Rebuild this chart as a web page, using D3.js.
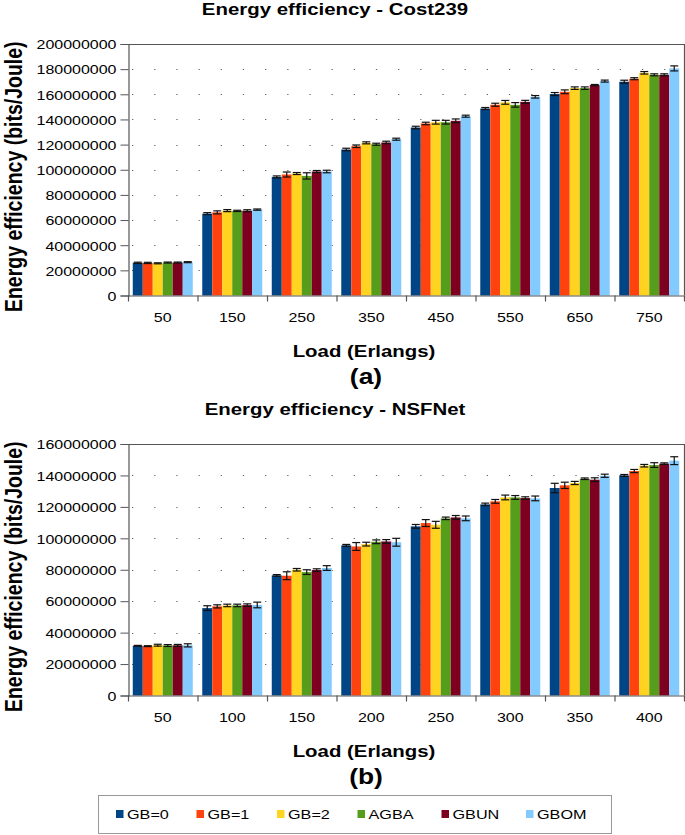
<!DOCTYPE html>
<html><head><meta charset="utf-8">
<script src="https://cdn.jsdelivr.net/npm/d3@7"></script>
<style>
html,body{margin:0;padding:0;background:#fff;}
text{font-family:"Liberation Sans",Arial,sans-serif;fill:#000;}
</style></head>
<body>
<svg id="chart" width="685" height="835"></svg>
<script>
// ---- data (values in millions of bits/Joule) ----
const seriesNames = ["GB=0","GB=1","GB=2","AGBA","GBUN","GBOM"];
const seriesColors = ["#004586","#ff420e","#ffd320","#579d1c","#7e0021","#83caff"];

const cost239Loads = ["50","150","250","350","450","550","650","750"];
const cost239_GB0  = [26.0, 65.1, 94.3, 116.1, 133.6, 148.7, 160.2, 170.0];
const cost239_GB1  = [25.9, 66.1, 96.2, 118.7, 136.8, 151.7, 162.0, 172.4];
const cost239_GB2  = [25.6, 67.5, 97.0, 121.4, 137.8, 153.6, 164.9, 177.1];
const cost239_AGBA = [26.2, 67.3, 95.1, 120.3, 137.8, 151.6, 164.9, 175.5];
const cost239_GBUN = [26.2, 67.4, 98.6, 121.7, 138.9, 154.0, 167.3, 175.5];
const cost239_GBOM = [26.5, 68.3, 98.6, 124.3, 142.6, 158.0, 170.5, 180.6];
const cost239Err_GB0  = [0.5, 0.8, 0.8, 1.0, 1.0, 0.8, 1.2, 1.2];
const cost239Err_GB1  = [0.5, 1.2, 2.0, 1.0, 1.0, 1.2, 1.5, 0.8];
const cost239Err_GB2  = [0.4, 0.8, 0.8, 0.8, 1.5, 1.5, 1.0, 1.0];
const cost239Err_AGBA = [0.4, 0.5, 2.5, 0.8, 1.5, 1.8, 1.0, 0.8];
const cost239Err_GBUN = [0.4, 0.8, 0.8, 1.0, 1.5, 1.2, 0.5, 0.8];
const cost239Err_GBOM = [0.4, 0.5, 1.0, 0.8, 0.8, 1.0, 0.8, 2.0];
const cost239YTicks = [0,20,40,60,80,100,120,140,160,180,200];

const nsfLoads = ["50","100","150","200","250","300","350","400"];
const nsf_GB0  = [31.6, 55.6, 76.4, 95.5, 107.6, 121.6, 132.0, 140.0];
const nsf_GB1  = [31.4, 56.7, 76.2, 94.8, 109.7, 123.5, 133.7, 142.8];
const nsf_GB2  = [32.0, 57.3, 80.0, 96.3, 108.6, 126.0, 135.2, 146.2];
const nsf_AGBA = [31.8, 57.3, 78.5, 97.8, 112.7, 126.0, 137.9, 146.6];
const nsf_GBUN = [31.9, 57.5, 79.8, 98.0, 113.3, 125.6, 137.3, 147.5];
const nsf_GBOM = [31.9, 57.6, 81.1, 97.5, 112.7, 125.4, 139.8, 149.4];
const nsfErr_GB0  = [0.3, 1.5, 0.5, 0.6, 1.2, 0.8, 3.0, 0.6];
const nsfErr_GB1  = [0.3, 1.0, 2.5, 2.5, 2.2, 1.2, 2.0, 1.0];
const nsfErr_GB2  = [0.6, 0.8, 0.8, 1.2, 2.2, 1.5, 1.0, 0.8];
const nsfErr_AGBA = [0.6, 0.8, 1.5, 1.2, 0.8, 1.2, 0.5, 1.5];
const nsfErr_GBUN = [0.6, 0.8, 0.8, 1.2, 1.2, 0.8, 1.2, 0.5];
const nsfErr_GBOM = [1.0, 1.8, 1.5, 2.5, 1.5, 1.5, 1.0, 2.5];
const nsfYTicks = [0,20,40,60,80,100,120,140,160];

const MILLION = 1e6;
const SX = 1.2; // horizontal stretch of all text

const svg = d3.select("#chart");

function stext(g, x, y, str, size, weight, anchor, extra) {
  return g.append("text")
    .attr("transform", `translate(${x},${y}) scale(${SX},1)` + (extra || ""))
    .attr("text-anchor", anchor)
    .style("font-size", size + "px")
    .style("font-weight", weight)
    .text(str);
}

function drawPanel(cfg) {
  const L = 128, R = 684, T = cfg.top, B = cfg.top + 251.5;
  const g = svg.append("g");
  const series = [cfg.s0, cfg.s1, cfg.s2, cfg.s3, cfg.s4, cfg.s5];
  const errs = [cfg.e0, cfg.e1, cfg.e2, cfg.e3, cfg.e4, cfg.e5];

  const y = d3.scaleLinear().domain([0, cfg.ymax * MILLION]).range([B, T]);
  const x0 = d3.scaleBand().domain(cfg.loads).range([L, R]).paddingInner(0.137).paddingOuter(0.0685);
  const x1 = d3.scaleBand().domain(seriesNames).range([0, x0.bandwidth()]);
  const step = x0.step();

  // dotted grid
  g.append("g").selectAll("line")
    .data(cfg.yticks.filter(t => t > 0 && t < cfg.ymax))
    .join("line")
    .attr("x1", L + 4).attr("x2", R)
    .attr("y1", d => Math.round(y(d * MILLION)) + 0.5)
    .attr("y2", d => Math.round(y(d * MILLION)) + 0.5)
    .attr("stroke", "#666").attr("stroke-width", 1)
    .attr("stroke-dasharray", "1.3,20.87");

  // bars
  const data = [];
  cfg.loads.forEach((c, i) => seriesNames.forEach((s, j) => {
    data.push({c, s, j, v: series[j][i], e: errs[j][i]});
  }));
  g.append("g").selectAll("rect").data(data).join("rect")
    .attr("x", d => x0(d.c) + x1(d.s))
    .attr("width", x1.bandwidth())
    .attr("y", d => y(d.v * MILLION))
    .attr("height", d => B - y(d.v * MILLION))
    .attr("fill", d => seriesColors[d.j]);

  // error bars
  const eg = g.append("g").attr("stroke", "#111").attr("stroke-width", 1.2).attr("fill", "none");
  data.forEach(d => {
    const cx = x0(d.c) + x1(d.s) + x1.bandwidth() / 2;
    const y1 = y((d.v + d.e) * MILLION), y2 = y((d.v - d.e) * MILLION);
    eg.append("line").attr("x1", cx).attr("x2", cx).attr("y1", y1).attr("y2", y2);
    eg.append("line").attr("x1", cx - 4).attr("x2", cx + 4).attr("y1", y1).attr("y2", y1);
    eg.append("line").attr("x1", cx - 4).attr("x2", cx + 4).attr("y1", y2).attr("y2", y2);
  });

  // frame: top and right
  g.append("path").attr("d", `M${L},${T + 0.5}H${R + 0.5}V${B}`)
    .attr("fill", "none").attr("stroke", "#555").attr("stroke-width", 1.2);

  // y axis
  const yAxis = d3.axisLeft(y)
    .tickValues(cfg.yticks.map(t => t * MILLION))
    .tickFormat(d3.format("d"))
    .tickSize(8).tickPadding(5);
  const ya = g.append("g").attr("transform", `translate(${L + 0.5},0)`).call(yAxis);
  ya.select(".domain").attr("stroke", "#555").attr("stroke-width", 1.2);
  ya.selectAll(".tick line").attr("stroke", "#555");
  ya.selectAll(".tick text")
    .attr("x", null).attr("dy", null)
    .attr("transform", `translate(-12,4.8) scale(${SX},1)`)
    .style("font-size", "13.3px")
    .style("font-family", '"Liberation Sans",Arial,sans-serif')
    .attr("fill", "#000");

  // x axis line and ticks at category boundaries
  g.append("line").attr("x1", L).attr("x2", R).attr("y1", B + 0.5).attr("y2", B + 0.5)
    .attr("stroke", "#555").attr("stroke-width", 1.2);
  g.append("g").selectAll("line").data(d3.range(cfg.loads.length + 1)).join("line")
    .attr("x1", i => L + i * step + 0.5).attr("x2", i => L + i * step + 0.5)
    .attr("y1", B).attr("y2", B + 6)
    .attr("stroke", "#555").attr("stroke-width", 1.2);
  cfg.loads.forEach(c => {
    stext(g, L + (cfg.loads.indexOf(c) + 0.5) * step, B + 26, c, 13.3, "normal", "middle");
  });

  // titles
  stext(g, 335, T - 29, cfg.title, 17, "bold", "middle");
  stext(g, 364, B + 61, "Load (Erlangs)", 17, "bold", "middle");
  stext(g, 366, B + 88, cfg.letter, 22, "bold", "middle");
  stext(g, 22, (T + B) / 2 + 7, "Energy efficiency (bits/Joule)", 19.5, "bold", "middle", " rotate(-90)");
}

drawPanel({
  top: 44, ymax: 200, yticks: cost239YTicks, loads: cost239Loads,
  title: "Energy efficiency - Cost239", letter: "(a)",
  s0: cost239_GB0, s1: cost239_GB1, s2: cost239_GB2, s3: cost239_AGBA, s4: cost239_GBUN, s5: cost239_GBOM,
  e0: cost239Err_GB0, e1: cost239Err_GB1, e2: cost239Err_GB2, e3: cost239Err_AGBA, e4: cost239Err_GBUN, e5: cost239Err_GBOM
});
drawPanel({
  top: 444, ymax: 160, yticks: nsfYTicks, loads: nsfLoads,
  title: "Energy efficiency - NSFNet", letter: "(b)",
  s0: nsf_GB0, s1: nsf_GB1, s2: nsf_GB2, s3: nsf_AGBA, s4: nsf_GBUN, s5: nsf_GBOM,
  e0: nsfErr_GB0, e1: nsfErr_GB1, e2: nsfErr_GB2, e3: nsfErr_AGBA, e4: nsfErr_GBUN, e5: nsfErr_GBOM
});

// legend
const lg = svg.append("g");
lg.append("rect").attr("x", 98.5).attr("y", 795.5).attr("width", 513).attr("height", 38)
  .attr("fill", "#fff").attr("stroke", "#999").attr("stroke-width", 1);
const legendX = [116, 196.5, 277, 357.5, 441.5, 526];
seriesNames.forEach((s, j) => {
  lg.append("rect").attr("x", legendX[j]).attr("y", 810).attr("width", 7.5).attr("height", 8)
    .attr("fill", seriesColors[j]);
  stext(lg, legendX[j] + 11, 819, s, 13.5, "normal", "start");
});
</script>
</body></html>
